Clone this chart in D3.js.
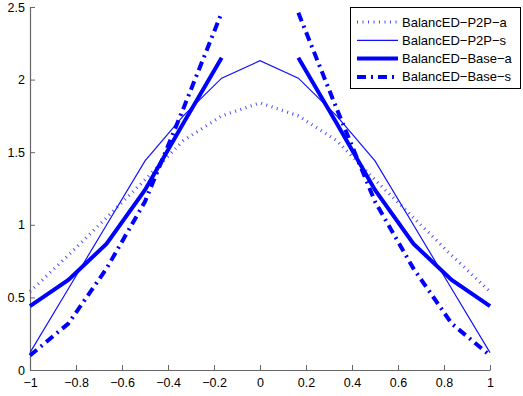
<!DOCTYPE html>
<html>
<head>
<meta charset="utf-8">
<script src="https://cdn.jsdelivr.net/npm/d3@7"></script>
<style>
  body { margin: 0; background: #fff; }
  text { font-family: "Liberation Sans", Arial, sans-serif; }
</style>
</head>
<body>
<div id="chart"></div>
<script>
// x positions shared by all series
const xValues = [-1, -0.8333, -0.6667, -0.5, -0.3333, -0.1667, 0, 0.1667, 0.3333, 0.5, 0.6667, 0.8333, 1];

// series values (null = not drawn)
const p2pA = [0.54, 0.79, 1.05, 1.31, 1.58, 1.75, 1.84, 1.75, 1.58, 1.31, 1.05, 0.79, 0.54];
const p2pS = [0.12, 0.56, 1.0, 1.44, 1.75, 2.01, 2.13, 2.01, 1.75, 1.44, 1.0, 0.56, 0.12];
const baseA = [0.44, 0.62, 0.87, 1.24, 1.7, 2.15, null, 2.15, 1.7, 1.24, 0.87, 0.62, 0.44];
const baseS = [0.1, 0.32, 0.7, 1.16, 1.8, 2.46, null, 2.46, 1.8, 1.16, 0.7, 0.32, 0.1];

const seriesNames = ["BalancED\u2212P2P\u2212a", "BalancED\u2212P2P\u2212s", "BalancED\u2212Base\u2212a", "BalancED\u2212Base\u2212s"];

// tick values and labels
const xTicks = [-1, -0.8, -0.6, -0.4, -0.2, 0, 0.2, 0.4, 0.6, 0.8, 1];
const xTickLabels = ["\u22121", "\u22120.8", "\u22120.6", "\u22120.4", "\u22120.2", "0", "0.2", "0.4", "0.6", "0.8", "1"];
const yTicks = [0, 0.5, 1, 1.5, 2, 2.5];
const yTickLabels = ["0", "0.5", "1", "1.5", "2", "2.5"];

// set the dimensions and margins of the graph
const margin = { top: 7, right: 33, bottom: 26, left: 30 },
  width = 523 - margin.left - margin.right,
  height = 396 - margin.top - margin.bottom;

const svg = d3
  .select("#chart")
  .append("svg")
  .attr("width", width + margin.left + margin.right)
  .attr("height", height + margin.top + margin.bottom)
  .append("g")
  .attr("transform", `translate(${margin.left},${margin.top})`);

const x = d3.scaleLinear().domain([-1, 1]).range([0, width]);
const y = d3.scaleLinear().domain([0, 2.5]).range([height, 0]);

// axes, ticks pointing inward like matlab
const xAxis = svg
  .append("g")
  .attr("transform", `translate(0,${height})`)
  .call(
    d3.axisBottom(x)
      .tickValues(xTicks)
      .tickFormat((d, i) => xTickLabels[i])
      .tickSizeInner(-5)
      .tickSizeOuter(0)
      .tickPadding(8)
  );

const yAxis = svg
  .append("g")
  .call(
    d3.axisLeft(y)
      .tickValues(yTicks)
      .tickFormat((d, i) => yTickLabels[i])
      .tickSizeInner(-5)
      .tickSizeOuter(0)
      .tickPadding(5)
  );

[xAxis, yAxis].forEach((g) => {
  g.select(".domain").attr("stroke", "#666").attr("stroke-width", 1.2);
  g.selectAll(".tick line").attr("stroke", "#666");
  g.selectAll(".tick text")
    .attr("fill", "#000")
    .style("font-size", "12.5px")
    .style("font-family", "'Liberation Sans', Arial, sans-serif");
});

// line styles for the four series
const styles = [
  { values: p2pA, color: "#4d4dff", width: 3.2, dash: "1,4.5" },
  { values: p2pS, color: "#1010ff", width: 1.2, dash: null },
  { values: baseA, color: "#0000ff", width: 4, dash: null },
  { values: baseS, color: "#0000ff", width: 4, dash: "9,5,2,5" },
];

const line = d3
  .line()
  .defined((d) => d[1] !== null)
  .x((d) => x(d[0]))
  .y((d) => y(d[1]));

styles.forEach((s) => {
  svg
    .append("path")
    .datum(xValues.map((v, i) => [v, s.values[i]]))
    .attr("d", line)
    .attr("fill", "none")
    .attr("stroke", s.color)
    .attr("stroke-width", s.width)
    .attr("stroke-dasharray", s.dash);
});

// legend box in the top right corner
const legend = svg
  .append("g")
  .attr("transform", `translate(${350 - margin.left},${7 - margin.top})`);

legend
  .append("rect")
  .attr("x", 0.5)
  .attr("y", 0.5)
  .attr("width", 170)
  .attr("height", 81)
  .attr("fill", "#fff")
  .attr("stroke", "#000")
  .attr("stroke-width", 1);

seriesNames.forEach((name, i) => {
  const ly = 15 + i * 18.3;
  legend
    .append("line")
    .attr("x1", 7)
    .attr("x2", 48)
    .attr("y1", ly)
    .attr("y2", ly)
    .attr("stroke", styles[i].color)
    .attr("stroke-width", styles[i].width)
    .attr("stroke-dasharray", styles[i].dash);
  legend
    .append("text")
    .attr("x", 52)
    .attr("y", ly)
    .attr("dy", "0.35em")
    .style("font-size", "13px")
    .text(name);
});
</script>
</body>
</html>
